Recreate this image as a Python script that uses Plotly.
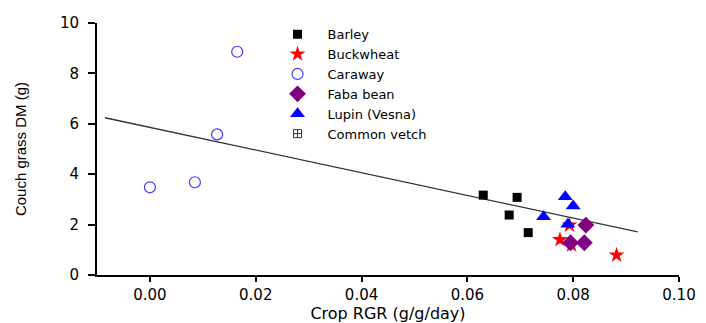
import plotly.graph_objects as go

# ---- data ----
barley_x = [0.0630, 0.0694, 0.0679, 0.0715]
barley_y = [3.17, 3.08, 2.38, 1.68]

buckwheat_x = [0.0775, 0.0793, 0.0797, 0.0882]
buckwheat_y = [1.40, 1.98, 1.19, 0.79]

caraway_x = [0.000, 0.0085, 0.0127, 0.0165]
caraway_y = [3.48, 3.68, 5.58, 8.86]

faba_x = [0.0824, 0.0795, 0.0821]
faba_y = [1.98, 1.28, 1.28]

lupin_x = [0.0785, 0.0800, 0.0744, 0.0790]
lupin_y = [3.11, 2.74, 2.31, 2.01]

vetch_x = [None]
vetch_y = [None]

fit_x = [-0.0085, 0.0922]
fit_y = [6.24, 1.71]

x_ticks = [0.00, 0.02, 0.04, 0.06, 0.08, 0.10]
x_ticklabels = ["0.00", "0.02", "0.04", "0.06", "0.08", "0.10"]
y_ticks = [0, 2, 4, 6, 8, 10]
y_ticklabels = ["0", "2", "4", "6", "8", "10"]

FONT = "DejaVu Sans"

fig = go.Figure()

fig.add_trace(go.Scatter(x=fit_x, y=fit_y, mode="lines",
                         line=dict(color="#333333", width=1.3),
                         showlegend=False, hoverinfo="skip"))

fig.add_trace(go.Scatter(x=barley_x, y=barley_y, mode="markers", name="Barley",
                         marker=dict(symbol="square", size=9, color="black")))
fig.add_trace(go.Scatter(x=buckwheat_x, y=buckwheat_y, mode="markers", name="Buckwheat",
                         marker=dict(symbol="star", size=12, color="#ff0000")))
fig.add_trace(go.Scatter(x=caraway_x, y=caraway_y, mode="markers", name="Caraway",
                         marker=dict(symbol="circle-open", size=11, color="#3a3aff",
                                     line=dict(width=1.2))))
fig.add_trace(go.Scatter(x=faba_x, y=faba_y, mode="markers", name="Faba bean",
                         marker=dict(symbol="diamond", size=13, color="#800080")))
fig.add_trace(go.Scatter(x=lupin_x, y=lupin_y, mode="markers", name="Lupin (Vesna)",
                         marker=dict(symbol="triangle-up", size=13, color="#0000ff")))
fig.add_trace(go.Scatter(x=vetch_x, y=vetch_y, mode="markers", name="Common vetch",
                         marker=dict(symbol="square-cross-open", size=8, color="#333333",
                                     line=dict(width=1))))

fig.update_layout(
    width=706, height=323,
    margin=dict(l=97, r=27, t=23, b=48),
    plot_bgcolor="white", paper_bgcolor="white",
    font=dict(family=FONT, color="black"),
    legend=dict(x=0.293, y=1.015, xanchor="left", yanchor="top",
                bgcolor="rgba(0,0,0,0)", itemwidth=50,
                font=dict(family=FONT, size=13, color="black")),
)

fig.update_xaxes(range=[-0.01, 0.10], showgrid=False, zeroline=False,
                 showline=True, linecolor="black", linewidth=2,
                 ticks="outside", ticklen=5, tickwidth=1.5, tickcolor="black",
                 tickvals=x_ticks, ticktext=x_ticklabels,
                 tickfont=dict(family=FONT, size=15),
                 automargin=False,
                 title=dict(text="Crop RGR (g/g/day)", standoff=9,
                            font=dict(family=FONT, size=16)))
fig.update_yaxes(range=[0, 10], showgrid=False, zeroline=False,
                 showline=True, linecolor="black", linewidth=2,
                 ticks="outside", ticklen=7, tickwidth=1.5, tickcolor="black",
                 tickvals=y_ticks, ticktext=y_ticklabels,
                 tickfont=dict(family=FONT, size=15),
                 ticklabelstandoff=6, automargin=False,
                 title=dict(text="Couch grass DM (g)", standoff=30,
                            font=dict(family="Liberation Sans", size=15)))

fig.write_html("out.html")
